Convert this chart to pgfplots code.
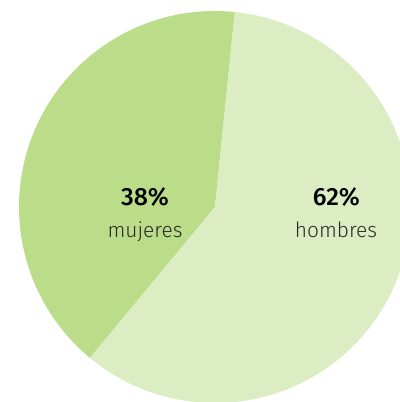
\documentclass[border=0pt]{standalone}
\usepackage{fontspec}
\setmainfont{Fira Sans}[UprightFont={* Light},BoldFont={* Medium}]
\usepackage{pgfplots}
\usepackage{pgfplotstable}
\pgfplotsset{compat=1.18}
\definecolor{mujc}{HTML}{BBDC89}
\definecolor{homc}{HTML}{DCEDC4}
\definecolor{labc}{HTML}{2A2A2A}
% share: slice size as drawn in the reference; shown: printed label
\pgfplotstableread{
label   share  shown  lx    ly
mujeres 40.6   38     145   196
hombres 59.4   62     336.5 196
}\piedata
\begin{document}
\begin{tikzpicture}
\pgfplotstablegetelem{0}{share}\of\piedata \let\sA\pgfplotsretval
\pgfplotstablegetelem{1}{share}\of\piedata \let\sB\pgfplotsretval
\pgfmathsetmacro\aStart{84.2}
\pgfmathsetmacro\aMid{\aStart+3.6*\sA}
\pgfmathsetmacro\aEnd{\aMid+3.6*\sB}
\begin{axis}[
  hide axis, scale only axis,
  width=400bp, height=402bp,
  xmin=0, xmax=400, ymin=0, ymax=402,
  clip=true,
]
\coordinate (ll) at (axis cs:0,0);
\coordinate (ur) at (axis cs:400,402);
\fill[mujc] (axis cs:215,195) -- ++(\aStart:196bp) arc[start angle=\aStart, end angle=\aMid, radius=196bp] -- cycle;
\fill[homc] (axis cs:215,195) -- ++(\aMid:196bp) arc[start angle=\aMid, end angle=\aEnd, radius=196bp] -- cycle;
\pgfplotstablegetelem{0}{shown}\of\piedata \let\pA\pgfplotsretval
\pgfplotstablegetelem{1}{shown}\of\piedata \let\pB\pgfplotsretval
\node[anchor=base, font=\fontsize{25}{27}\selectfont\bfseries, text=black] at (axis cs:145,196) {\pA\%};
\node[anchor=base, font=\fontsize{21}{23}\selectfont, text=labc] at (axis cs:145,164) {mujeres};
\node[anchor=base, font=\fontsize{25}{27}\selectfont\bfseries, text=black] at (axis cs:336.5,196) {\pB\%};
\node[anchor=base, font=\fontsize{21}{23}\selectfont, text=labc] at (axis cs:336,164) {hombres};
\end{axis}
\pgfresetboundingbox
\useasboundingbox (ll) rectangle (ur);
\end{tikzpicture}
\end{document}
